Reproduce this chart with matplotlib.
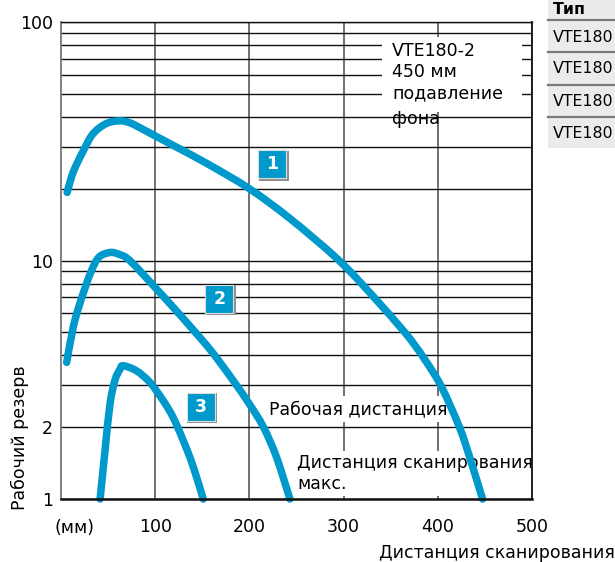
import numpy as np
import matplotlib
matplotlib.use("Agg")
import matplotlib.pyplot as plt
from matplotlib.patches import Rectangle, PathPatch
from matplotlib.path import Path
from matplotlib.lines import Line2D
import matplotlib.transforms as mtransforms

plt.rcParams['font.family'] = ['DejaVu Sans']

# ---- data ----
curve1_x = [6.5, 13, 24, 34, 48, 62, 73, 84, 100, 119, 155, 200, 243, 294, 331, 363, 374, 388, 404, 423, 434, 447.5]
curve1_y = [19.3, 23.5, 29.0, 34.0, 37.5, 38.5, 37.8, 36.0, 33.3, 30.4, 25.5, 20.0, 15.0, 10.1, 7.1, 5.1, 4.5, 3.75, 2.95, 2.0, 1.49, 1.0]

curve2_x = [6, 13, 20, 31, 40, 52, 62, 73, 100, 119, 137, 160, 183, 200, 215, 229, 243]
curve2_y = [3.74, 5.25, 6.6, 8.8, 10.3, 10.8, 10.6, 10.0, 7.7, 6.37, 5.3, 4.15, 3.13, 2.5, 2.0, 1.49, 1.0]

curve3_x = [41.5, 46.7, 52, 57.3, 62.6, 66, 80, 94.5, 108.6, 119, 130, 140, 151]
curve3_y = [1.0, 1.59, 2.5, 3.15, 3.5, 3.62, 3.45, 3.08, 2.58, 2.2, 1.75, 1.38, 1.0]

badge_labels = ["1", "2", "3"]
badge_x = [224, 168, 148.6]
badge_y = [25.3, 6.92, 2.44]

x_ticks = [100, 200, 300, 400, 500]
x_tick_labels = ["100", "200", "300", "400", "500"]
y_ticks = [1, 2, 10, 100]
y_tick_labels = ["1", "2", "10", "100"]
y_minor = [3, 4, 5, 6, 7, 8, 9, 20, 30, 40, 50, 60, 70, 80, 90]

table_header = "Тип"
table_rows = ["VTE180", "VTE180", "VTE180", "VTE180"]

BLUE = '#0099CC'
FS = 12.5

W, H = 615, 562
fig = plt.figure(figsize=(W / 100, H / 100), dpi=100)
ax = fig.add_axes([61 / W, 1 - 499 / H, 471 / W, 477 / H])

ax.set_yscale('log')
ax.set_xlim(0, 500)
ax.set_ylim(1, 100)
ax.set_autoscale_on(False)

ax.set_xticks(x_ticks)
ax.set_xticklabels(x_tick_labels, fontsize=FS)
ax.set_yticks(y_ticks)
ax.set_yticklabels(y_tick_labels, fontsize=FS)
ax.set_yticks(y_minor, minor=True)
ax.yaxis.set_minor_formatter(matplotlib.ticker.NullFormatter())
ax.set_xticks([], minor=True)
ax.tick_params(axis='both', which='both', length=0)
ax.tick_params(axis='x', pad=14)
ax.tick_params(axis='y', pad=6)

ax.set_axisbelow(True)
ax.yaxis.grid(True, which='both', color='#111111', linewidth=1.0)
ax.xaxis.grid(True, which='major', color='#666666', linewidth=1.3)

ax.spines['left'].set_color('#777777')
ax.spines['left'].set_linewidth(1.3)
ax.spines['bottom'].set_color('#111111')
ax.spines['bottom'].set_linewidth(1.8)
ax.spines['right'].set_color('#111111')
ax.spines['right'].set_linewidth(1.3)
ax.spines['top'].set_color('#111111')
ax.spines['top'].set_linewidth(1.0)
for s in ax.spines.values():
    s.set_zorder(6)


def smooth_curve(xs, ys):
    """Draw a smooth (Catmull-Rom) stroke through the data points, in display space."""
    pts = ax.transData.transform(np.column_stack([xs, ys]))
    n = len(pts)
    verts = [pts[0]]
    codes = [Path.MOVETO]
    for i in range(n - 1):
        p0 = pts[i - 1] if i > 0 else pts[i]
        p1 = pts[i]
        p2 = pts[i + 1]
        p3 = pts[i + 2] if i + 2 < n else pts[i + 1]
        c1 = p1 + (p2 - p0) / 6.0
        c2 = p2 - (p3 - p1) / 6.0
        verts += [c1, c2, p2]
        codes += [Path.CURVE4] * 3
    patch = PathPatch(Path(verts, codes), transform=mtransforms.IdentityTransform(),
                      facecolor='none', edgecolor=BLUE, linewidth=5.4,
                      capstyle='round', joinstyle='round', zorder=4, clip_on=False)
    ax.add_artist(patch)


for cx, cy in [(curve1_x, curve1_y), (curve2_x, curve2_y), (curve3_x, curve3_y)]:
    smooth_curve(cx, cy)

# badges
shadow = mtransforms.offset_copy(ax.transData, fig=fig, x=1.5, y=-1.5, units='dots')
for lab, bx, by in zip(badge_labels, badge_x, badge_y):
    ax.plot([bx], [by], marker='s', markersize=21.5, color='#8f8f8f',
            markeredgewidth=0, transform=shadow, zorder=4.5)
    ax.plot([bx], [by], marker='s', markersize=20.5, color=BLUE,
            markeredgecolor='#dddddd', markeredgewidth=0.8, zorder=4.6)
    ax.text(bx, by, lab, color='white', fontsize=FS, fontweight='bold',
            ha='center', va='center', zorder=4.7)

# top-right info box
ax.add_patch(Rectangle((0.681, 0.811), 0.298, 0.158, transform=ax.transAxes,
                       facecolor='white', edgecolor='none', zorder=2))
ax.text(0.703, 0.939, "VTE180-2", transform=ax.transAxes, fontsize=FS,
        ha='left', va='center', zorder=3)
ax.text(0.703, 0.895, "450 мм", transform=ax.transAxes, fontsize=FS,
        ha='left', va='center', zorder=3)
ax.text(0.703, 0.851, "подавление", transform=ax.transAxes, fontsize=FS,
        ha='left', va='center', zorder=3)
ax.text(0.703, 0.797, "фона", transform=ax.transAxes, fontsize=FS,
        ha='left', va='center', zorder=3)

# in-plot labels
ax.text(0.441, 0.1887, "Рабочая дистанция", transform=ax.transAxes, fontsize=FS,
        ha='left', va='center', zorder=3,
        bbox=dict(boxstyle='square,pad=0.25', facecolor='white', edgecolor='none'))
ax.text(0.501, 0.0535, "Дистанция сканирования\nмакс.", transform=ax.transAxes,
        fontsize=FS, ha='left', va='center', zorder=3, linespacing=1.15,
        bbox=dict(boxstyle='square,pad=0.2', facecolor='white', edgecolor='none'))

# unit label on x axis
fig.text(75 / W, 1 - 528 / H, "(мм)", fontsize=FS, ha='center', va='center')

# axis titles
fig.text(20 / W, 1 - 438 / H, "Рабочий резерв", fontsize=FS, rotation=90,
         ha='center', va='center')
fig.text(379 / W, 1 - 553 / H, "Дистанция сканирования", fontsize=FS,
         ha='left', va='center')

# fragment of neighbouring table at the right edge
fig.patches.append(Rectangle((548 / W, 1 - 148 / H), (W - 548) / W, 148 / H,
                             transform=fig.transFigure, facecolor='#ebebeb',
                             edgecolor='none', zorder=0))
for yy in [20, 52, 85, 117]:
    fig.lines.append(Line2D([548 / W, 1], [1 - yy / H, 1 - yy / H],
                            transform=fig.transFigure,
                            color='#7a7a7a', linewidth=1.6))
fig.text(553 / W, 1 - 10 / H, table_header, fontsize=11.3, fontweight='bold',
         ha='left', va='center')
for lab, yy in zip(table_rows, [37, 68, 101, 133]):
    fig.text(553 / W, 1 - yy / H, lab, fontsize=11.3, ha='left', va='center')

fig.savefig("out.png", dpi=100)
